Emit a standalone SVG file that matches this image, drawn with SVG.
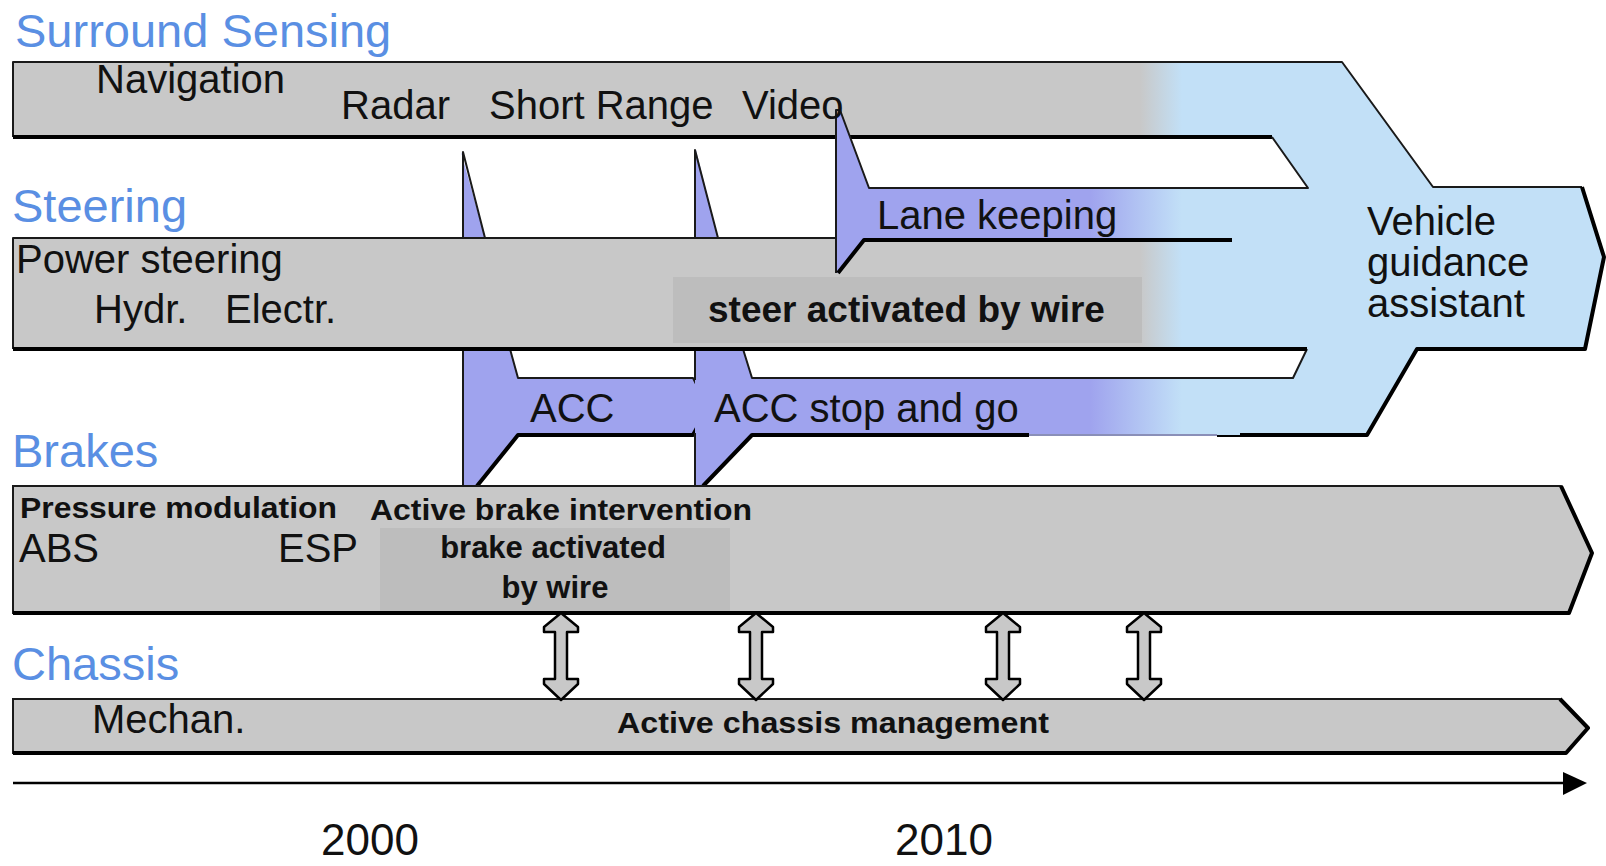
<svg xmlns="http://www.w3.org/2000/svg" width="1606" height="866" viewBox="0 0 1606 866">
<defs>
<linearGradient id="gb" gradientUnits="userSpaceOnUse" x1="1140" y1="0" x2="1182" y2="0">
<stop offset="0" stop-color="#c8c8c8"/><stop offset="1" stop-color="#c2e0f7"/>
</linearGradient>
<linearGradient id="pb" gradientUnits="userSpaceOnUse" x1="1090" y1="0" x2="1182" y2="0">
<stop offset="0" stop-color="#9fa3ee"/><stop offset="1" stop-color="#c2e0f7"/>
</linearGradient>
<style>
.t{font-family:"Liberation Sans",Arial,sans-serif;fill:#111}
.h{font-family:"Liberation Sans",Arial,sans-serif;fill:#5a8fe3;font-size:47px}
.r{font-size:40px}
.b{font-weight:bold}
.thin{fill:none;stroke:#1a1a1a;stroke-width:2;stroke-linejoin:round}
.thick{fill:none;stroke:#000;stroke-width:4;stroke-linejoin:round}
.gray{fill:#c8c8c8}
.box{fill:#bdbdbd}
.purple{fill:url(#pb)}
.dbl{fill:#c8c8c8;stroke:#000;stroke-width:2.5;stroke-linejoin:round}
</style>
</defs>
<rect width="1606" height="866" fill="#fff"/>

<g id="vehicle-guidance">
<path fill="url(#gb)" d="M13,62 L1342,62 L1433,187 L1582,187 L1604,257 L1585,349 L1417,349 L1367,435 L1150,435 L1150,377 L1293,377 L1307,349 L1150,349 L1150,188 L1308,188 L1272,137 L13,137 Z"/>
<polyline class="thin" points="13,137 13,62 1342,62 1433,187 1582,187"/>
<polyline class="thick" points="1582,187 1604,257 1585,349 1417,349 1367,435 1217,435"/>
<polyline class="thick" points="13,137 1272,137"/>
<text class="t r" x="1367" y="235">Vehicle</text>
<text class="t r" x="1367" y="276">guidance</text>
<text class="t r" x="1367" y="317">assistant</text>
</g>

<g id="acc">
<path class="purple" d="M461,152 L485,238 L510,349 L518,378 L693,378 L708,408 L693,435 L518,435 L477,486 L463,486 L463,156 Z"/>
<polyline class="thin" points="463,486 463,152 485,238"/>
<polyline class="thin" points="510,349 518,378 693,378 708,408"/>
<polyline class="thick" points="708,408 693,435 518,435 477,486"/>
</g>

<g id="acc-stop-and-go">
<path class="purple" d="M696,150 L718,238 L743,349 L752,378 L1240,378 L1240,435 L752,435 L703,486 L695,486 L695,154 Z"/>
<polyline class="thin" points="695,380 695,150 718,238"/>
<line class="thin" x1="695" y1="433" x2="695" y2="486"/>
<polyline class="thin" points="743,349 752,378 1293,378 1307,349"/>
<polyline class="thick" points="1029,435 752,435 703,486"/>
<line x1="1029" y1="435" x2="1217" y2="435" stroke="#8a8fb8" stroke-width="2"/>
</g>

<g id="steering">
<rect x="13" y="238" width="1150" height="111" fill="url(#gb)"/>
<polyline class="thin" points="836,238 13,238 13,349"/>
<line class="thick" x1="13" y1="349" x2="1307" y2="349"/>
</g>

<g id="lane-keeping">
<path class="purple" d="M836,110 L840,110 L869,188 L1240,188 L1240,240 L864,240 L838,273 L836,273 Z"/>
<polyline class="thin" points="836,273 836,110 840,110 869,188 1308,188 1272,137"/>
<polyline class="thick" points="1232,240 864,240 838,273"/>
<text class="t r" x="877" y="229">Lane keeping</text>
</g>

<g id="steer-by-wire">
<rect class="box" x="673" y="277" width="469" height="66"/>
<text class="t b" x="708" y="322" font-size="37">steer activated by wire</text>
</g>

<g id="surround-sensing">
<text class="h" x="15" y="47">Surround Sensing</text>
<text class="t r" x="96" y="93">Navigation</text>
<text class="t r" x="341" y="119">Radar</text>
<text class="t r" x="489" y="119">Short Range</text>
<text class="t r" x="742" y="119">Video</text>
</g>

<g id="steering-labels">
<text class="h" x="12" y="222">Steering</text>
<text class="t r" x="16" y="273">Power steering</text>
<text class="t r" x="94" y="323">Hydr.</text>
<text class="t r" x="225" y="323">Electr.</text>
<text class="t r" x="530" y="422">ACC</text>
<text class="t r" x="714" y="422">ACC stop and go</text>
</g>

<g id="brakes">
<text class="h" x="12" y="467">Brakes</text>
<path class="gray" d="M13,486 L1561,486 L1592,553 L1569,613 L13,613 Z" stroke="#1a1a1a" stroke-width="2"/>
<polyline class="thick" points="1561,486 1592,553 1569,613 13,613"/>
<text class="t b" x="20" y="518" font-size="30" textLength="317" lengthAdjust="spacingAndGlyphs" fill="#222">Pressure modulation</text>
<text class="t b" x="370" y="520" font-size="30" textLength="382" lengthAdjust="spacingAndGlyphs" fill="#222">Active brake intervention</text>
<text class="t r" x="19" y="562">ABS</text>
<text class="t r" x="278" y="562">ESP</text>
</g>

<g id="brake-by-wire">
<rect class="box" x="380" y="528" width="350" height="83"/>
<text class="t b" x="553" y="558" font-size="31" text-anchor="middle">brake activated</text>
<text class="t b" x="555" y="598" font-size="31" text-anchor="middle">by wire</text>
</g>

<g id="chassis">
<text class="h" x="12" y="680">Chassis</text>
<path class="gray" d="M13,699 L1560,699 L1588,728 L1566,753 L13,753 Z" stroke="#1a1a1a" stroke-width="2"/>
<polyline class="thick" points="1560,699 1588,728 1566,753 13,753"/>
<text class="t r" x="92" y="733">Mechan.</text>
<text class="t b" x="617" y="733" font-size="30" textLength="432" lengthAdjust="spacingAndGlyphs" fill="#222">Active chassis management</text>
</g>

<g id="connectors">
<path class="dbl" transform="translate(561,0)" d="M0,613 L17,627 L17,632 L6,632 L6,679 L17,679 L17,684 L0,700 L-17,684 L-17,679 L-6,679 L-6,632 L-17,632 L-17,627 Z"/>
<path class="dbl" transform="translate(756,0)" d="M0,613 L17,627 L17,632 L6,632 L6,679 L17,679 L17,684 L0,700 L-17,684 L-17,679 L-6,679 L-6,632 L-17,632 L-17,627 Z"/>
<path class="dbl" transform="translate(1003,0)" d="M0,613 L17,627 L17,632 L6,632 L6,679 L17,679 L17,684 L0,700 L-17,684 L-17,679 L-6,679 L-6,632 L-17,632 L-17,627 Z"/>
<path class="dbl" transform="translate(1144,0)" d="M0,613 L17,627 L17,632 L6,632 L6,679 L17,679 L17,684 L0,700 L-17,684 L-17,679 L-6,679 L-6,632 L-17,632 L-17,627 Z"/>
</g>

<g id="timeline">
<line x1="13" y1="783" x2="1566" y2="783" stroke="#000" stroke-width="2.5"/>
<path d="M1563,772 L1587,783 L1563,795 Z" fill="#000"/>
<text class="t" x="321" y="855" font-size="44">2000</text>
<text class="t" x="895" y="855" font-size="44">2010</text>
</g>
</svg>
